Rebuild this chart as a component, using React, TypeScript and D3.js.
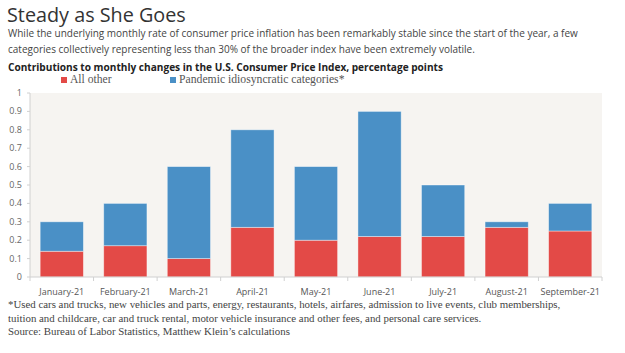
import React from "react";
import * as d3 from "d3";

const months = [
  "January-21",
  "February-21",
  "March-21",
  "April-21",
  "May-21",
  "June-21",
  "July-21",
  "August-21",
  "September-21",
];
const allOther = [0.14, 0.17, 0.1, 0.27, 0.2, 0.22, 0.22, 0.27, 0.25];
const pandemic = [0.16, 0.23, 0.5, 0.53, 0.4, 0.68, 0.28, 0.03, 0.15];
const yTicks = [0, 0.1, 0.2, 0.3, 0.4, 0.5, 0.6, 0.7, 0.8, 0.9, 1];

const RED = "#e34a47";
const BLUE = "#4a90c6";
const SANS = "'Open Sans', sans-serif";
const SERIF = "'Liberation Serif', 'DejaVu Serif', serif";

const W = 625;
const H = 353;
const plot = { left: 30, right: 602, top: 93, bottom: 277 };

export default function App() {
  const x = d3
    .scaleBand<string>()
    .domain(months)
    .range([plot.left, plot.right])
    .paddingInner(0.32)
    .paddingOuter(0.16);
  const y = d3.scaleLinear().domain([0, 1]).range([plot.bottom, plot.top]);

  const rows = months.map((m, i) => ({ m, a: allOther[i], p: pandemic[i] }));
  const stack = d3.stack<any>().keys(["a", "p"])(rows);
  const colors = [RED, BLUE];

  const step = x.step();
  const boundaries = d3.range(months.length + 1).map((i) => plot.left + i * step);

  return (
    <svg
      width={W}
      height={H}
      style={{ position: "absolute", left: 0, top: 0, background: "#fff" }}
    >
      <text x={7} y={22} fontFamily={SANS} fontSize={19.8} fill="#333">
        Steady as She Goes
      </text>
      <text x={8} y={37} fontFamily={SANS} fontSize={10} fill="#444">
        While the underlying monthly rate of consumer price inflation has been remarkably stable since the start of the year, a few
      </text>
      <text x={8} y={53} fontFamily={SANS} fontSize={10} fill="#444">
        categories collectively representing less than 30% of the broader index have been extremely volatile.
      </text>
      <text x={8} y={71} fontFamily={SANS} fontSize={10.1} fontWeight={700} fill="#222">
        Contributions to monthly changes in the U.S. Consumer Price Index, percentage points
      </text>

      {/* legend */}
      <rect x={61} y={77} width={6} height={6} fill={RED} />
      <text x={70} y={83} fontFamily={SERIF} fontSize={11.6} fill="#555">
        All other
      </text>
      <rect x={170} y={77} width={6} height={6} fill={BLUE} />
      <text x={179} y={83} fontFamily={SERIF} fontSize={11.7} fill="#555">
        Pandemic idiosyncratic categories*
      </text>

      <rect
        x={plot.left}
        y={plot.top}
        width={plot.right - plot.left}
        height={plot.bottom - plot.top}
        fill="#f6f4f1"
      />

      {stack.map((layer, li) =>
        layer.map((d, i) => (
          <rect
            key={`${li}-${i}`}
            x={x(months[i])}
            y={y(d[1])}
            width={x.bandwidth()}
            height={y(d[0]) - y(d[1])}
            fill={colors[li]}
            stroke="#ffffff"
            strokeOpacity={0.5}
            strokeWidth={0.8}
          />
        ))
      )}

      {/* y axis */}
      <line x1={plot.left} x2={plot.left} y1={plot.top} y2={plot.bottom} stroke="#d0d0d0" />
      {yTicks.map((t) => (
        <g key={t}>
          <line x1={plot.left - 3} x2={plot.left} y1={y(t)} y2={y(t)} stroke="#d0d0d0" />
          <text
            x={22}
            y={y(t) + 3}
            textAnchor="end"
            fontFamily={SANS}
            fontSize={9}
            fill="#666"
          >
            {t === 0 || t === 1 ? String(t) : d3.format(".1f")(t)}
          </text>
        </g>
      ))}

      {/* x axis */}
      <line x1={plot.left} x2={plot.right} y1={plot.bottom} y2={plot.bottom} stroke="#d0d0d0" />
      {boundaries.map((b, i) => (
        <line key={i} x1={b} x2={b} y1={plot.bottom} y2={plot.bottom + 4} stroke="#d0d0d0" />
      ))}
      {months.map((m) => (
        <text
          key={m}
          x={(x(m) ?? 0) + x.bandwidth() / 2}
          y={295}
          textAnchor="middle"
          fontFamily={SANS}
          fontSize={9}
          fill="#555"
        >
          {m}
        </text>
      ))}

      <text x={8} y={308} fontFamily={SERIF} fontSize={10.85} fill="#444">
        *Used cars and trucks, new vehicles and parts, energy, restaurants, hotels, airfares, admission to live events, club memberships,
      </text>
      <text x={8} y={322} fontFamily={SERIF} fontSize={10.85} fill="#444">
        tuition and childcare, car and truck rental, motor vehicle insurance and other fees, and personal care services.
      </text>
      <text x={8} y={335} fontFamily={SERIF} fontSize={10.85} fill="#444">
        Source: Bureau of Labor Statistics, Matthew Klein’s calculations
      </text>
    </svg>
  );
}
